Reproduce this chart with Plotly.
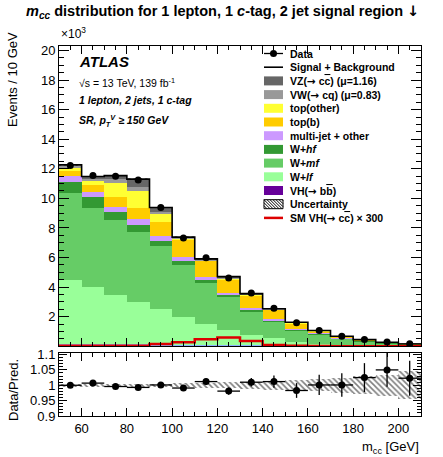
import plotly.graph_objects as go

# ---------------- data (thousands of events) ----------------
bin_lo = [50, 60, 70, 80, 90, 100, 110, 120, 130, 140, 150, 160, 170, 180, 190, 200]
bin_w = 10
x_ticks = [60, 80, 100, 120, 140, 160, 180, 200]

vh_bb     = [0.02, 0.02, 0.02, 0.02, 0.02, 0.02, 0.02, 0.02, 0.02, 0.01, 0.01, 0.01, 0.005, 0.0, 0.0, 0.0]
other_blu = [0.15, 0.15, 0.14, 0.13, 0.12, 0.10, 0.08, 0.07, 0.05, 0.04, 0.03, 0.02, 0.015, 0.005, 0.0, 0.0]
w_lf      = [4.32, 3.82, 3.31, 2.85, 2.36, 1.84, 1.41, 1.01, 0.69, 0.49, 0.27, 0.13, 0.07, 0.05, 0.03, 0.02]
w_mf      = [5.90, 5.39, 5.08, 4.75, 4.29, 3.54, 2.75, 2.22, 1.58, 1.14, 0.78, 0.64, 0.44, 0.295, 0.18, 0.105]
w_hf      = [0.75, 0.68, 0.52, 0.46, 0.36, 0.29, 0.23, 0.20, 0.12, 0.09, 0.06, 0.04, 0.03, 0.02, 0.015, 0.01]
multijet  = [0.38, 0.36, 0.33, 0.38, 0.31, 0.23, 0.18, 0.11, 0.10, 0.07, 0.05, 0.03, 0.02, 0.01, 0.01, 0.006]
top_b     = [0.36, 0.49, 0.72, 0.75, 0.97, 1.22, 1.12, 0.90, 0.90, 0.64, 0.37, 0.16, 0.08, 0.05, 0.025, 0.013]
top_other = [0.23, 0.27, 0.91, 1.19, 0.52, 0.06, 0.04, 0.08, 0.04, 0.03, 0.03, 0.02, 0.01, 0.01, 0.005, 0.003]
vw        = [0.10, 0.12, 0.27, 0.23, 0.16, 0.03, 0.03, 0.04, 0.03, 0.02, 0.02, 0.01, 0.005, 0.005, 0.003, 0.002]
vz        = [0.06, 0.18, 0.24, 0.54, 0.27, 0.05, 0.05, 0.06, 0.03, 0.01, 0.01, 0.01, 0.005, 0.005, 0.002, 0.001]

data      = [12.22, 11.55, 11.50, 11.25, 9.39, 7.32, 5.98, 4.62, 3.60, 2.57, 1.60, 1.07, 0.68, 0.46, 0.285, 0.165]
sm_vhcc_x300 = [0.03, 0.03, 0.03, 0.04, 0.15, 0.27, 0.47, 0.60, 0.36, 0.08, 0.03, 0.02, 0.01, 0.01, 0.01, 0.01]

ratio     = [1.000, 1.007, 0.996, 0.993, 1.001, 0.991, 1.012, 0.981, 1.010, 1.012, 0.983, 1.001, 1.001, 1.025, 1.050, 1.023]
ratio_err = [0.006, 0.006, 0.006, 0.006, 0.007, 0.008, 0.010, 0.012, 0.014, 0.020, 0.024, 0.033, 0.038, 0.047, 0.055, 0.057]
unc_rel   = [0.005, 0.005, 0.005, 0.005, 0.005, 0.006, 0.008, 0.010, 0.012, 0.014, 0.016, 0.020, 0.025, 0.030, 0.035, 0.045]

components = [
    ("VH(bb)", vh_bb, "#660099"),
    ("other", other_blu, "#8fb0ff"),
    ("W+lf", w_lf, "#99ff99"),
    ("W+mf", w_mf, "#66cc66"),
    ("W+hf", w_hf, "#339933"),
    ("multi-jet + other", multijet, "#cc99ff"),
    ("top(b)", top_b, "#ffcc00"),
    ("top(other)", top_other, "#ffff33"),
    ("VW", vw, "#999999"),
    ("VZ", vz, "#666666"),
]

centers = [b + bin_w / 2 for b in bin_lo]
nb = len(bin_lo)
total = [sum(c[1][i] for c in components) for i in range(nb)]
step_x = bin_lo + [bin_lo[-1] + bin_w]

FONT = "Liberation Sans, Arial, sans-serif"
W, H = 443, 457
ML, MR, MT, MB = 59, 22, 46, 41
PW, PH = W - ML - MR, H - MT - MB


def px(x):
    return (x - ML) / PW


def py(y):
    return (H - MB - y) / PH


ARROW = '<span style="font-family:DejaVu Sans">→</span>'
DOWN = '<span style="font-family:DejaVu Sans">↓</span>'


def cbar(s):
    return '<span style="text-decoration:overline">' + s + '</span>'


fig = go.Figure()

for name, vals, col in components:
    fig.add_trace(go.Bar(x=centers, y=vals, width=bin_w, marker=dict(color=col, line=dict(width=0)),
                         xaxis="x", yaxis="y", showlegend=False, name=name))

hatch = dict(shape="\\", fgcolor="black", bgcolor="rgba(0,0,0,0)", size=4, solidity=0.4)
# uncertainty hatch on stack
fig.add_trace(go.Bar(x=centers, y=[2 * t * u for t, u in zip(total, unc_rel)],
                     base=[t * (1 - u) for t, u in zip(total, unc_rel)], width=bin_w,
                     marker=dict(color="rgba(0,0,0,0)", line=dict(width=0), pattern=hatch),
                     xaxis="x", yaxis="y", showlegend=False))

# total line
fig.add_trace(go.Scatter(x=step_x, y=total + [total[-1]], mode="lines", line=dict(color="black", width=1.6, shape="hv"),
                         xaxis="x", yaxis="y", showlegend=False))
# SM VH(cc) x300
fig.add_trace(go.Scatter(x=step_x, y=sm_vhcc_x300 + [sm_vhcc_x300[-1]], mode="lines",
                         line=dict(color="#dd0000", width=2.5, shape="hv"),
                         xaxis="x", yaxis="y", showlegend=False))
# data
fig.add_trace(go.Scatter(x=centers, y=data, mode="markers", marker=dict(color="black", size=7),
                         xaxis="x", yaxis="y", showlegend=False))

# ratio band
fig.add_trace(go.Bar(x=centers, y=[2 * u for u in unc_rel], base=[1 - u for u in unc_rel], width=bin_w,
                     marker=dict(color="rgba(0,0,0,0)", line=dict(width=0), pattern=hatch),
                     xaxis="x2", yaxis="y2", showlegend=False))
fig.add_trace(go.Scatter(x=centers, y=ratio, mode="markers", marker=dict(color="black", size=7),
                         error_y=dict(type="data", array=ratio_err, color="black", thickness=1.3, width=0),
                         error_x=dict(type="constant", value=bin_w / 2, color="black", thickness=1.3, width=0),
                         xaxis="x2", yaxis="y2", showlegend=False))

axis_common = dict(showline=True, linecolor="black", linewidth=1, mirror="allticks", ticks="inside",
                   tickcolor="black", showgrid=False, zeroline=False,
                   tickfont=dict(family=FONT, size=13, color="black"))

ratio_dom_top = (H - MB - 353) / PH
main_dom_bot = (H - MB - 346) / PH

fig.update_layout(
    width=W, height=H, margin=dict(l=ML, r=MR, t=MT, b=MB),
    plot_bgcolor="white", paper_bgcolor="white", barmode="stack", bargap=0,
    xaxis=dict(domain=[0, 1], anchor="y", range=[50, 210], tickmode="array", tickvals=x_ticks,
               ticklen=8, showticklabels=False, matches="x2",
               minor=dict(dtick=5, ticks="inside", ticklen=4, tickcolor="black"), **axis_common),
    yaxis=dict(domain=[main_dom_bot, 1], anchor="x", range=[0.02, 20.3], tick0=0, dtick=2, ticklen=10,
               minor=dict(dtick=0.5, ticks="inside", ticklen=5, tickcolor="black"), **axis_common),
    xaxis2=dict(domain=[0, 1], anchor="y2", range=[50, 210], tickmode="array", tickvals=x_ticks,
                ticklen=8, ticklabelstandoff=0,
                minor=dict(dtick=5, ticks="inside", ticklen=4, tickcolor="black"), **axis_common),
    yaxis2=dict(domain=[0, ratio_dom_top], anchor="x2", range=[0.9, 1.105], tick0=0.9, dtick=0.05, ticklen=8,
                minor=dict(dtick=0.01, ticks="inside", ticklen=4, tickcolor="black"), **axis_common),
)

ann = []
shapes = []


def text(x, y, s, size, xanchor="left", yanchor="middle", angle=0):
    ann.append(dict(x=px(x), y=py(y), xref="paper", yref="paper", text=s, showarrow=False,
                    xanchor=xanchor, yanchor=yanchor, textangle=angle,
                    font=dict(family=FONT, size=size, color="black")))


# title
text(222, 12, "<b><i>m<sub>cc</sub></i> distribution for 1 lepton, 1 <i>c</i>-tag, 2 jet signal region " + DOWN + "</b>",
     14.5, xanchor="center")
text(59, 33, "×10<sup>3</sup>", 12)
text(13, 80, "Events / 10 GeV", 13, xanchor="center", angle=-90)
text(13, 390, "Data/Pred.", 13, xanchor="center", angle=-90)
text(421, 447, "m<sub>cc</sub> [GeV]", 13, xanchor="right")

# ATLAS labels
text(77, 61, "<b><i>ATLAS</i></b>", 15)
text(77, 82, "√s = 13 TeV, 139 fb<sup>-1</sup>", 10.5)
text(77, 100, "<b><i>1 lepton, 2 jets, 1 c-tag</i></b>", 10.5)
text(77, 121, "<b><i>SR, p<sub>T</sub><sup>V</sup> ≥ 150 GeV</i></b>", 10.5)

# custom legend
lx0, lx1, ltx = 264, 283, 288
step = 13.7
y0 = 53.5
leg = [
    ("Data", "data", None),
    ("Signal + Background", "line", "black"),
    ("VZ(" + ARROW + " c" + cbar("c") + ") (μ=1.16)", "box", "#666666"),
    ("VW(" + ARROW + " cq) (μ=0.83)", "box", "#999999"),
    ("top(other)", "box", "#ffff33"),
    ("top(b)", "box", "#ffcc00"),
    ("multi-jet + other", "box", "#cc99ff"),
    ("W+<i>hf</i>", "box", "#339933"),
    ("W+<i>mf</i>", "box", "#66cc66"),
    ("W+<i>lf</i>", "box", "#99ff99"),
    ("VH(" + ARROW + " b" + cbar("b") + ")", "box", "#660099"),
    ("Uncertainty", "hatch", None),
    ("SM VH(" + ARROW + " c" + cbar("c") + ") × 300", "line", "#dd0000"),
]
for i, (lab, kind, col) in enumerate(leg):
    yc = y0 + i * step
    if kind == "box":
        shapes.append(dict(type="rect", xref="paper", yref="paper", x0=px(lx0), x1=px(lx1), y0=py(yc - 4.5),
                           y1=py(yc + 4.5), fillcolor=col, line=dict(width=0)))
    elif kind == "line":
        shapes.append(dict(type="line", xref="paper", yref="paper", x0=px(lx0), x1=px(lx1), y0=py(yc), y1=py(yc),
                           line=dict(color=col, width=1.6 if col == "black" else 2.5)))
    elif kind == "data":
        shapes.append(dict(type="line", xref="paper", yref="paper", x0=px(lx0), x1=px(lx1), y0=py(yc), y1=py(yc),
                           line=dict(color="black", width=1.3)))
        shapes.append(dict(type="circle", xref="paper", yref="paper", x0=px(273.5 - 3.5), x1=px(273.5 + 3.5),
                           y0=py(yc - 3.5), y1=py(yc + 3.5), fillcolor="black", line=dict(width=0)))
    elif kind == "hatch":
        top, bot = yc - 4.5, yc + 4.5
        shapes.append(dict(type="rect", xref="paper", yref="paper", x0=px(lx0), x1=px(lx1), y0=py(top),
                           y1=py(bot), fillcolor="white", line=dict(color="black", width=1)))
        h = bot - top
        a = lx0 - h
        path = ""
        while a < lx1:
            xs, ys = a, top
            xe, ye = a + h, bot
            if xs < lx0:
                ys = top + (lx0 - xs)
                xs = lx0
            if xe > lx1:
                ye = bot - (xe - lx1)
                xe = lx1
            if xe > xs:
                path += f"M{px(xs)},{py(ys)} L{px(xe)},{py(ye)} "
            a += 3
        shapes.append(dict(type="path", xref="paper", yref="paper", path=path, line=dict(color="black", width=1)))
    text(ltx, yc, "<b>" + lab + "</b>", 10.5)

fig.update_layout(annotations=ann, shapes=shapes)
fig.write_html("out.html")
